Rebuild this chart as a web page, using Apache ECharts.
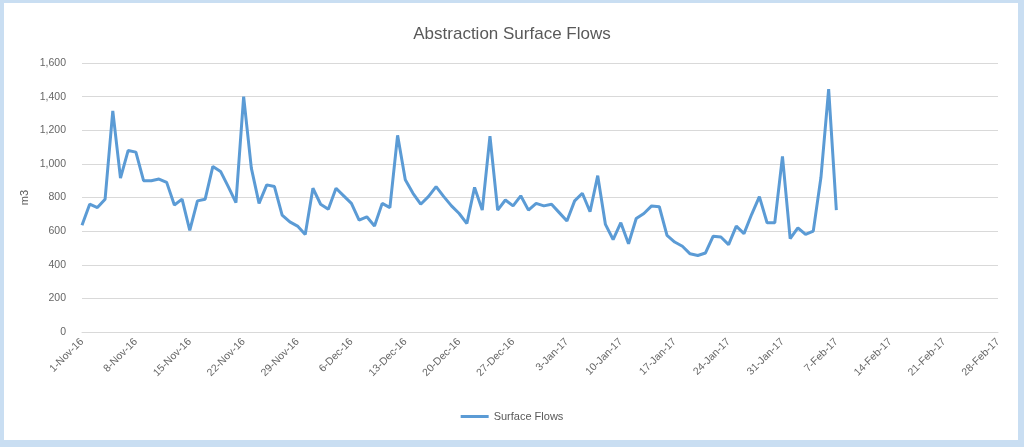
<!DOCTYPE html>
<html>
<head>
<meta charset="utf-8">
<script src="https://cdn.jsdelivr.net/npm/echarts@6/dist/echarts.min.js"></script>
<style>
html,body{margin:0;padding:0;background:#c9def2;}
#frame{position:absolute;left:4px;top:3px;width:1014px;height:437px;background:#fff;}
#chart{position:absolute;left:-4px;top:-3px;width:1024px;height:447px;}
</style>
</head>
<body>
<div id="frame"><div id="chart"></div></div>
<script>
// Axis range: daily categories 1-Nov-16 .. 28-Feb-17
var startDate = [2016, 10, 1];
var dayCount = 120;
var monthNames = ['Jan','Feb','Mar','Apr','May','Jun','Jul','Aug','Sep','Oct','Nov','Dec'];
var yTicks = [0, 200, 400, 600, 800, 1000, 1200, 1400, 1600];

// Surface flows (m3), daily from 1-Nov-16 to 7-Feb-17
var surfaceFlows = [
  635, 760, 740, 790, 1315, 915, 1080, 1070, 900, 900,
  910, 890, 755, 790, 605, 780, 790, 985, 955, 865,
  770, 1400, 975, 765, 875, 865, 695, 655, 630, 580,
  855, 760, 730, 855, 810, 765, 665, 685, 630, 765,
  740, 1170, 905, 825, 760, 805, 865, 805, 750, 705,
  645, 860, 725, 1165, 725, 785, 750, 810, 725, 765,
  750, 760, 710, 660, 780, 825, 715, 930, 640, 550,
  650, 525, 675, 705, 750, 745, 575, 535, 510, 465,
  455, 470, 570, 565, 520, 630, 585, 700, 805, 650,
  650, 1045, 555, 620, 580, 600, 920, 1445, 725
];

var categories = [];
for (var i = 0; i < dayCount; i++) {
  var d = new Date(startDate[0], startDate[1], startDate[2] + i);
  categories.push(d.getDate() + '-' + monthNames[d.getMonth()] + '-' + String(d.getFullYear()).slice(2));
}

var chart = echarts.init(document.getElementById('chart'));
chart.setOption({
  animation: false,
  backgroundColor: 'transparent',
  title: {
    text: 'Abstraction Surface Flows',
    left: 'center',
    top: 21,
    textStyle: {fontFamily: 'Liberation Sans', fontSize: 17, fontWeight: 'normal', color: '#595959'}
  },
  grid: {left: 82, right: 26, top: 63, bottom: 115},
  legend: {
    bottom: 20,
    left: 'center',
    itemWidth: 28,
    itemHeight: 3,
    itemGap: 6,
    icon: 'rect',
    textStyle: {fontFamily: 'Liberation Sans', fontSize: 11, color: '#595959'},
    data: ['Surface Flows']
  },
  xAxis: {
    type: 'category',
    boundaryGap: false,
    data: categories,
    axisLine: {show: true, lineStyle: {color: '#d9d9d9'}},
    axisTick: {show: false},
    splitLine: {show: false},
    axisLabel: {
      interval: 6,
      rotate: 45,
      fontFamily: 'Liberation Sans',
      fontSize: 10.5,
      color: '#666666',
      margin: 8
    }
  },
  yAxis: {
    type: 'value',
    min: yTicks[0],
    max: yTicks[yTicks.length - 1],
    interval: 200,
    name: 'm3',
    nameLocation: 'middle',
    nameRotate: 90,
    nameGap: 52,
    nameMoveOverlap: false,
    nameTextStyle: {fontFamily: 'Liberation Sans', fontSize: 11, color: '#595959'},
    axisLine: {show: false},
    axisTick: {show: false},
    splitLine: {lineStyle: {color: '#d9d9d9', width: 1}},
    axisLabel: {
      fontFamily: 'Liberation Sans',
      fontSize: 10.5,
      color: '#666666',
      margin: 16,
      formatter: function (v) { return v.toLocaleString('en-US'); }
    }
  },
  series: [{
    name: 'Surface Flows',
    type: 'line',
    data: surfaceFlows,
    showSymbol: false,
    symbol: 'none',
    lineStyle: {color: '#5b9bd5', width: 3},
    itemStyle: {color: '#5b9bd5'}
  }]
});
</script>
</body>
</html>
